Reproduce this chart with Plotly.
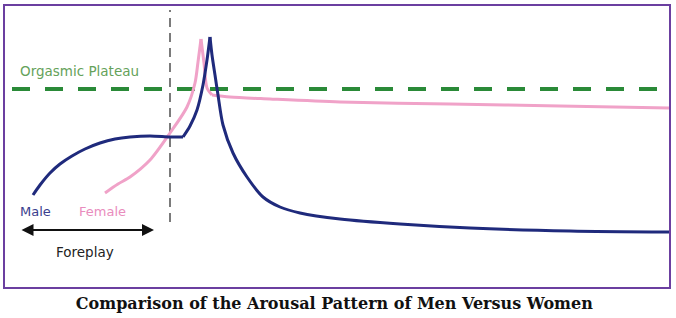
import plotly.graph_objects as go

# Coordinates: time (0..664) and arousal level (0..281)
male_t = [28, 35, 45, 55, 67, 80, 95, 110, 125, 145, 165, 178, 185, 192, 198, 202, 205, 207, 210, 213, 218, 228, 242, 258, 275, 295, 335, 395, 465, 565, 664]
male_a = [92, 102, 114, 123, 131, 138, 144, 148, 150, 151, 150, 150, 161, 177, 202, 227, 250, 232, 212, 192, 162, 134, 110, 90, 80, 74, 68, 63, 59, 56, 55]

female_t = [100, 113, 125, 145, 165, 182, 190, 193, 196, 199, 202, 207, 225, 265, 335, 445, 555, 664]
female_a = [94, 103, 110, 127, 154, 180, 204, 225, 248, 224, 199, 192, 190, 188, 185, 183, 181, 179]

plateau_t = [7, 664]
plateau_a = [198, 198]

foreplay_end_t = [165, 165]
foreplay_end_a = [65, 277]

labels = {"plateau": "Orgasmic Plateau", "male": "Male", "female": "Female",
          "foreplay": "Foreplay",
          "title": "Comparison of the Arousal Pattern of Men Versus Women"}

# curve pieces (index ranges) drawn smoothly, with corners kept sharp
male_pieces = [(0, 11), (11, 16), (16, len(male_t) - 1)]
female_pieces = [(0, 8), (8, 11), (11, len(female_t) - 1)]

fig = go.Figure()
fig.add_trace(go.Scatter(x=foreplay_end_t, y=foreplay_end_a, mode="lines",
                         line=dict(color="#5a5a5a", width=1.6, dash="9px,6px"), hoverinfo="skip"))
fig.add_trace(go.Scatter(x=plateau_t, y=plateau_a, mode="lines",
                         line=dict(color="#2a8a38", width=4, dash="18px,15px"), hoverinfo="skip"))
for a, b in female_pieces:
    fig.add_trace(go.Scatter(x=female_t[a:b + 1], y=female_a[a:b + 1], mode="lines",
                             line=dict(color="#f0a2c8", width=3, shape="spline", smoothing=0.8),
                             hoverinfo="skip"))
for a, b in male_pieces:
    fig.add_trace(go.Scatter(x=male_t[a:b + 1], y=male_a[a:b + 1], mode="lines",
                             line=dict(color="#1f2a7c", width=3, shape="spline", smoothing=0.8),
                             hoverinfo="skip"))

font = "DejaVu Sans, Verdana, sans-serif"
ann = [
    dict(x=13, y=216, text=labels["plateau"], xanchor="left", yanchor="middle",
         font=dict(family=font, size=13.5, color="#65a25a")),
    dict(x=13, y=76, text=labels["male"], xanchor="left", yanchor="middle",
         font=dict(family=font, size=13, color="#3b3f8e")),
    dict(x=72, y=76, text=labels["female"], xanchor="left", yanchor="middle",
         font=dict(family=font, size=13, color="#e98cbd")),
    dict(x=49, y=35, text=labels["foreplay"], xanchor="left", yanchor="middle",
         font=dict(family=font, size=13.5, color="#222222")),
    dict(x=149, y=57, ax=15, ay=57, axref="x", ayref="y", text="", showarrow=True,
         arrowside="end+start", arrowhead=2, arrowsize=1.2, arrowwidth=2, arrowcolor="#111111"),
]
for a in ann:
    a.setdefault("showarrow", False)
    a.setdefault("xref", "x")
    a.setdefault("yref", "y")

fig.update_layout(
    width=676, height=318,
    margin=dict(l=5, r=7, t=6, b=31),
    paper_bgcolor="white", plot_bgcolor="white",
    showlegend=False,
    annotations=ann,
    title=dict(text="<b>" + labels["title"] + "</b>", x=0.496, xref="paper", xanchor="center",
               y=1 - 303 / 318, yref="container", yanchor="middle",
               font=dict(family="DejaVu Serif, serif", size=16, color="#111111")),
    xaxis=dict(range=[0, 664], showgrid=False, zeroline=False, showticklabels=False, ticks="",
               showline=True, mirror=True, linecolor="#6b3fa0", linewidth=2),
    yaxis=dict(range=[0, 281], showgrid=False, zeroline=False, showticklabels=False, ticks="",
               showline=True, mirror=True, linecolor="#6b3fa0", linewidth=2),
)
fig.write_html("out.html")
